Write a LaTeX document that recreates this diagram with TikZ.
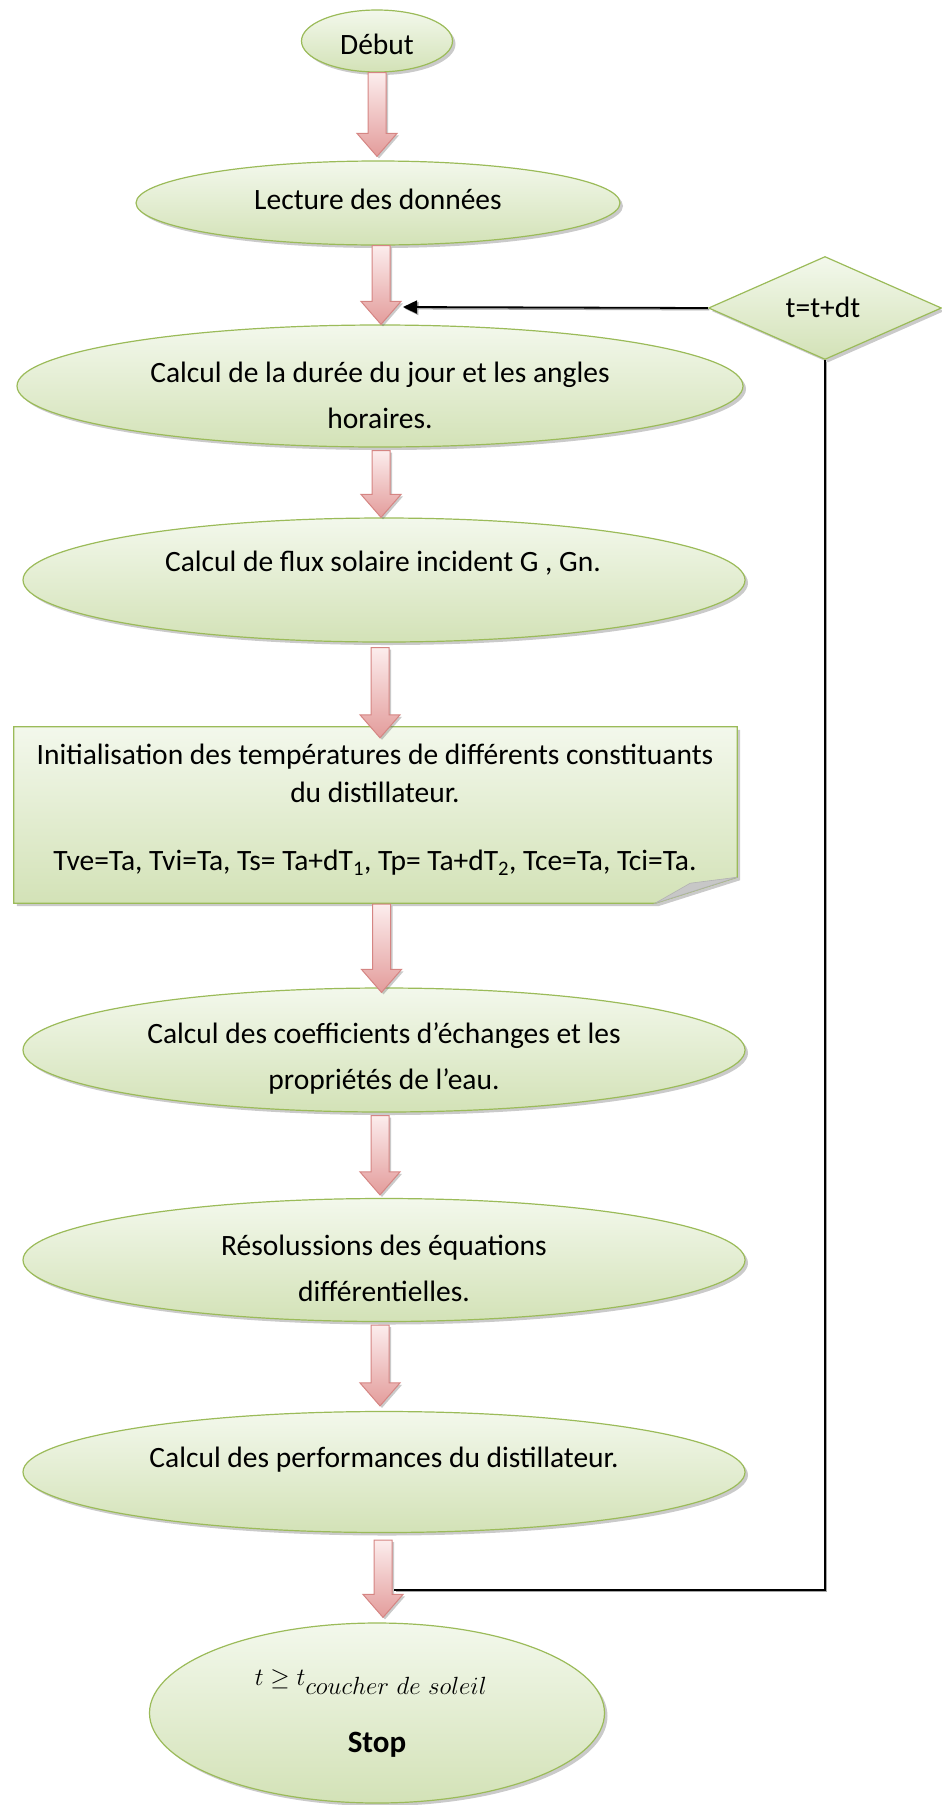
\documentclass[tikz,border=0pt]{standalone}
\usepackage{fontspec}
\setmainfont{Carlito}
\usetikzlibrary{shapes.geometric,shadows,calc,arrows.meta}
\definecolor{gtop}{HTML}{F3F8EC}
\definecolor{gbot}{HTML}{D3E2B7}
\definecolor{gedge}{HTML}{9BBB59}
\definecolor{rtop}{HTML}{FCEDED}
\definecolor{rbot}{HTML}{E39C9B}
\definecolor{redge}{HTML}{D58583}
\newcommand\barrow[2]{%
  \path[barrowsty] let \p1=(#1), \p2=(#2) in
    (\x1-9pt,\y1) -- (\x1+9pt,\y1) -- (\x1+9pt,\y2+23pt) -- (\x1+20pt,\y2+23pt)
    -- (\x1,\y2) -- (\x1-20pt,\y2+23pt) -- (\x1-9pt,\y2+23pt) -- cycle;}
\begin{document}
\begin{tikzpicture}[x=1pt,y=-1pt,
  txt/.style={font=\fontsize{29.5}{46}\selectfont, align=center, inner sep=0pt, text=black},
  greenfill/.style={draw=gedge, line width=1.2pt, top color=gtop, bottom color=gbot,
     drop shadow={shadow xshift=3pt, shadow yshift=-3pt, opacity=0.35, fill=black!60}},
  ell/.style={ellipse, greenfill, inner sep=0pt},
  barrowsty/.style={draw=redge, line width=1pt, top color=rtop, bottom color=rbot,
     drop shadow={shadow xshift=2pt, shadow yshift=-2pt, opacity=0.35, fill=black!60}},
  conn/.style={draw=black, line width=1.8pt},
  connshadow/.style={draw=black!35, line width=1.8pt, transform canvas={shift={(1.5pt,-1.5pt)}}},
]
\useasboundingbox (0,0) rectangle (942,1805);

% ellipses
\node[ell, minimum width=151pt, minimum height=62pt] (deb) at (377,41) {};
\node[ell, minimum width=484pt, minimum height=84pt] (lec) at (378,203) {};
\node[ell, minimum width=726pt, minimum height=122pt] (dur) at (380,386) {};
\node[ell, minimum width=722pt, minimum height=124pt] (flux) at (384,580) {};
\node[ell, minimum width=722pt, minimum height=124pt] (coef) at (384,1050) {};
\node[ell, minimum width=722pt, minimum height=123pt] (reso) at (384,1260) {};
\node[ell, minimum width=722pt, minimum height=121pt] (perf) at (384,1472) {};
\node[ell, minimum width=455pt, minimum height=180pt] (stop) at (377,1713) {};

% rectangle with folded corner
\node[rectangle, minimum width=723pt, minimum height=176pt, inner sep=0pt] (init) at (375.5,815) {};
\path[greenfill] (init.north west) -- (init.north east) -- ($(init.south east)+(0,-26)$)
   -- ($(init.south east)+(-82,0)$) -- (init.south west) -- cycle;
\path[fill=black!22, draw=black!30, line width=0.6pt] ($(init.south east)+(0,-26)$)
   -- ($(init.south east)+(-47,-20)$) -- ($(init.south east)+(-82,0)$) -- cycle;

% diamond
\node[diamond, greenfill, minimum width=233pt, minimum height=103pt, inner sep=0pt] (dia) at (825,308) {};

% texts
\node[txt] (tdeb) at (377,44) {Début};
\node[txt] (tlec) at (378,199) {Lecture des données};
\node[txt] (tdur) at (380,395) {Calcul de la durée du jour et les angles\\horaires.};
\node[txt] (tflux) at (383,563) {Calcul de flux solaire incident G , Gn.};
\node[txt, font=\fontsize{29.5}{38}\selectfont] (tinit) at (375,810)
  {Initialisation des températures de différents constituants\\du distillateur.\\[30pt]
   Tve=Ta, Tvi=Ta, Ts= Ta+dT\textsubscript{1}, Tp= Ta+dT\textsubscript{2}, Tce=Ta, Tci=Ta.};
\node[txt] (tcoef) at (384,1058) {Calcul des coefficients d’échanges et les\\propriétés de l’eau.};
\node[txt] (treso) at (384,1268) {Résolussions des équations\\différentielles.};
\node[txt] (tperf) at (384,1460) {Calcul des performances du distillateur.};
\node[txt, font=\fontsize{34}{36}\selectfont] (tcond) at (371,1682) {$t \geq t_{coucher\ de\ soleil}$};
\node[txt, font=\fontsize{31}{34}\selectfont\bfseries] (tstop) at (377,1745) {Stop};
\node[txt] (tdia) at (823,307) {t=t+dt};

% block arrows
\barrow{$(deb.south)+(0,0)$}{$(lec.north)+(0,-4)$}
\barrow{$(lec.south)+(3,0)$}{$(dur.north)+(1,0)$}
\barrow{$(dur.south)+(1,3)$}{$(flux.north)+(-3,0)$}
\barrow{$(flux.south)+(-4,5)$}{$(init.north)+(5,11)$}
\barrow{$(init.south)+(6,1)$}{$(coef.north)+(0,5)$}
\barrow{$(coef.south)+(-4,3)$}{$(reso.north)+(0,-3)$}
\barrow{$(reso.south)+(-4,3)$}{$(perf.north)+(0,-5)$}
\barrow{$(perf.south)+(-1,7)$}{$(stop.north)+(6,-5)$}

% feedback connectors
\coordinate (join) at (394,1590);
\coordinate (entry) at (403,307);
\path[connshadow] (dia.south) |- (join);
\path[connshadow, -{Triangle[length=14pt,width=13pt]}] (dia.west) -- (entry);
\path[conn] (dia.south) |- (join);
\path[conn, -{Triangle[length=14pt,width=13pt]}] (dia.west) -- (entry);
\end{tikzpicture}
\end{document}
